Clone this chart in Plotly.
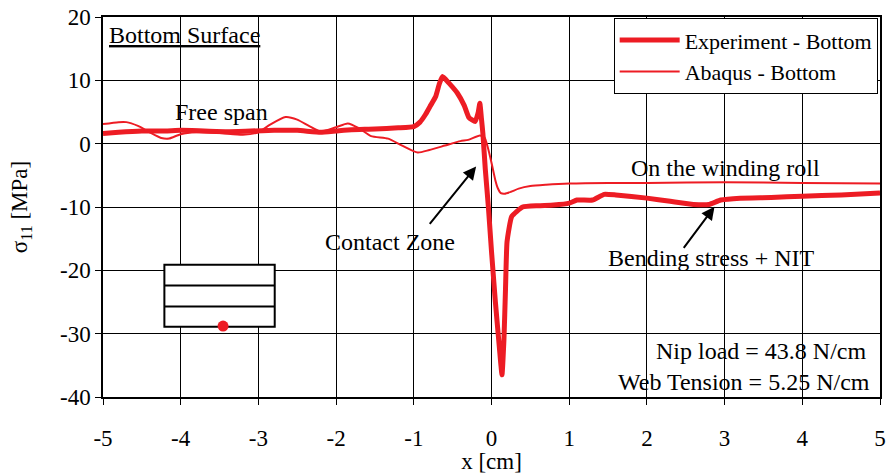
import plotly.graph_objects as go

# Measured stress along the web (bottom surface)
exp_x = [-5.0, -4.8, -4.5, -4.2, -4.0, -3.7, -3.4, -3.1, -2.8, -2.5, -2.2, -2.0, -1.8, -1.5,
         -1.2, -1.0, -0.92, -0.85, -0.79, -0.72, -0.67, -0.63, -0.55, -0.44, -0.35, -0.29,
         -0.21, -0.17, -0.15, -0.13, -0.11, -0.08, -0.04, 0.0, 0.05, 0.10, 0.135, 0.16, 0.18,
         0.20, 0.26, 0.40, 0.6, 0.8, 1.0, 1.1, 1.3, 1.45, 1.6, 2.0, 2.3, 2.6, 2.8, 2.95, 3.2,
         3.6, 4.0, 4.5, 5.0]
exp_y = [1.6, 1.8, 2.0, 2.0, 2.1, 2.0, 1.9, 2.0, 2.1, 2.1, 1.8, 2.0, 2.2, 2.3,
         2.5, 2.7, 3.4, 4.6, 5.9, 7.4, 9.5, 10.6, 9.6, 8.0, 6.0, 4.1,
         3.5, 5.0, 6.4, 4.0, 1.5, -4.0, -10.0, -17.0, -25.0, -32.0, -36.5, -31.0, -23.0,
         -15.5, -11.5, -10.0, -9.8, -9.7, -9.4, -8.9, -8.9, -8.0, -8.1, -8.6, -9.1, -9.6, -9.6, -8.9, -8.6,
         -8.5, -8.3, -8.1, -7.8]

# Finite element prediction (bottom surface)
fem_x = [-5.0, -4.8, -4.7, -4.55, -4.4, -4.25, -4.15, -4.0, -3.8, -3.5, -3.2, -3.0, -2.85,
         -2.65, -2.5, -2.35, -2.2, -2.0, -1.85, -1.7, -1.55, -1.33, -1.15, -0.95, -0.8, -0.6,
         -0.4, -0.3, -0.15, -0.09, -0.05, 0.0, 0.05, 0.08, 0.12, 0.17, 0.25, 0.35, 0.5, 0.7,
         1.0, 1.5, 2.0, 3.0, 4.0, 5.0]
fem_y = [3.1, 3.4, 3.4, 2.8, 1.8, 0.9, 0.8, 1.5, 1.8, 1.7, 1.4, 1.8, 3.0,
         4.2, 3.8, 2.8, 1.9, 2.6, 3.2, 2.4, 1.2, 0.8, -0.3, -1.4, -1.0, -0.3,
         0.4, 0.6, 1.3, 1.0, -0.5, -3.0, -5.8, -7.0, -7.8, -7.9, -7.6, -7.1, -6.7, -6.5,
         -6.3, -6.2, -6.2, -6.1, -6.2, -6.3]

x_ticks = [-5, -4, -3, -2, -1, 0, 1, 2, 3, 4, 5]
y_ticks = [-40, -30, -20, -10, 0, 10, 20]
x_labels = [str(v) for v in x_ticks]
y_labels = [str(v) for v in y_ticks]

RED = "#ED1C24"
FONT = "Liberation Serif, Times New Roman, serif"
FS = 23      # axis text
FS_NOTE = 24 # in-plot notes
FS_LEG = 22  # legend

fig = go.Figure()
fig.add_trace(go.Scatter(x=exp_x, y=exp_y, mode="lines", name="Experiment - Bottom",
                         line=dict(color=RED, width=5, shape="spline", smoothing=0.4)))
fig.add_trace(go.Scatter(x=fem_x, y=fem_y, mode="lines", name="Abaqus - Bottom",
                         line=dict(color=RED, width=2, shape="spline", smoothing=0.6)))

# Sketch of the layered web with the measuring point on the bottom surface
box_x0, box_x1 = -4.21, -2.79
box_y = [-19.1, -22.4, -25.7, -28.9]
fig.add_shape(type="rect", x0=box_x0, x1=box_x1, y0=box_y[3], y1=box_y[0],
              line=dict(color="black", width=2), fillcolor="white", layer="between")
for yy in box_y[1:3]:
    fig.add_shape(type="line", x0=box_x0, x1=box_x1, y0=yy, y1=yy,
                  line=dict(color="black", width=2), layer="between")
fig.add_trace(go.Scatter(x=[-3.455], y=[-28.8], mode="markers", showlegend=False,
                         marker=dict(color=RED, size=11), hoverinfo="skip"))

tfont = dict(family=FONT, size=FS_NOTE, color="black")
fig.add_annotation(x=-4.95, y=17.2, text="<u>Bottom Surface</u>", showarrow=False,
                   xanchor="left", font=tfont)
fig.add_annotation(x=-3.47, y=5.05, text="Free span", showarrow=False, font=tfont)
fig.add_annotation(x=3.01, y=-3.8, text="On the winding roll", showarrow=False, font=tfont)
fig.add_annotation(x=2.83, y=-18.0, text="Bending stress + NIT", showarrow=False, font=tfont)
fig.add_annotation(x=-1.31, y=-15.5, text="Contact Zone", showarrow=False, font=tfont)
fig.add_annotation(x=4.86, y=-32.8, text="Nip load = 43.8 N/cm", showarrow=False,
                   xanchor="right", font=tfont)
fig.add_annotation(x=4.90, y=-37.6, text="Web Tension = 5.25 N/cm", showarrow=False,
                   xanchor="right", font=tfont)

# Arrows
fig.add_annotation(x=-0.198, y=-3.6, ax=-0.81, ay=-12.9, axref="x", ayref="y",
                   xref="x", yref="y", text="", showarrow=True, arrowhead=2,
                   arrowsize=1.3, arrowwidth=2, arrowcolor="black")
fig.add_annotation(x=2.87, y=-9.95, ax=2.46, ay=-16.7, axref="x", ayref="y",
                   xref="x", yref="y", text="", showarrow=True, arrowhead=2,
                   arrowsize=1.3, arrowwidth=2, arrowcolor="black")

axis_common = dict(showgrid=True, gridcolor="black", gridwidth=1, zeroline=False,
                   showline=True, linecolor="black", linewidth=1.5, mirror=True,
                   ticks="outside", ticklen=6, tickcolor="black",
                   tickfont=dict(family=FONT, size=FS, color="black"))

fig.update_layout(
    width=891, height=474,
    margin=dict(l=103, r=5, t=17, b=77),
    paper_bgcolor="white", plot_bgcolor="white",
    font=dict(family=FONT, size=FS, color="black"),
    xaxis=dict(range=[-5, 5], tickvals=x_ticks, ticktext=x_labels, ticklabelstandoff=14,
               title=dict(text="x [cm]", font=dict(family=FONT, size=FS), standoff=0),
               **axis_common),
    yaxis=dict(range=[-40, 20], tickvals=y_ticks, ticktext=y_labels,
               title=dict(text="σ<sub>11</sub> [MPa]", font=dict(family=FONT, size=FS), standoff=26),
               **axis_common),
    legend=dict(x=0.997, y=0.997, xanchor="right", yanchor="top",
                bgcolor="white", bordercolor="black", borderwidth=1,
                font=dict(family=FONT, size=FS_LEG, color="black"),
                itemwidth=60, tracegroupgap=0),
    showlegend=True,
)

fig.write_html("out.html")
